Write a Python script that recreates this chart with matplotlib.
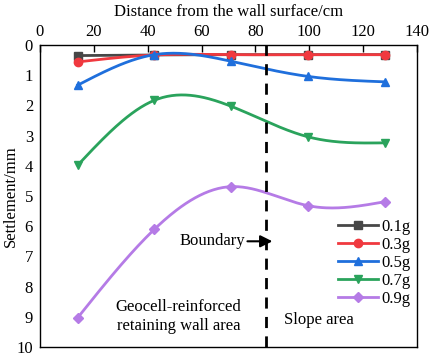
import matplotlib.pyplot as plt
import numpy as np

plt.rcParams["font.family"] = ["Liberation Serif", "DejaVu Serif"]
plt.rcParams["font.size"] = 12

distance = [14, 42.5, 71, 99.5, 128]
s01 = [0.35, 0.33, 0.32, 0.32, 0.32]
s03 = [0.56, 0.33, 0.32, 0.32, 0.32]
s05 = [1.33, 0.32, 0.54, 1.04, 1.22]
s07 = [3.98, 1.83, 2.03, 3.04, 3.24]
s09 = [9.03, 6.1, 4.69, 5.32, 5.19]
labels = ["0.1g", "0.3g", "0.5g", "0.7g", "0.9g"]
colors = ["#474747", "#f0393f", "#1f6fdc", "#2aa35c", "#b57be6"]
markers = ["s", "o", "^", "v", "D"]


def spline(x, y, n=200):
    # natural cubic spline, only used to draw the smooth line
    x = np.asarray(x, float)
    y = np.asarray(y, float)
    k = len(x)
    h = np.diff(x)
    A = np.zeros((k, k))
    b = np.zeros(k)
    A[0, 0] = A[-1, -1] = 1
    for i in range(1, k - 1):
        A[i, i - 1] = h[i - 1]
        A[i, i] = 2 * (h[i - 1] + h[i])
        A[i, i + 1] = h[i]
        b[i] = 6 * ((y[i + 1] - y[i]) / h[i] - (y[i] - y[i - 1]) / h[i - 1])
    M = np.linalg.solve(A, b)
    xs = np.linspace(x[0], x[-1], n)
    idx = np.clip(np.searchsorted(x, xs) - 1, 0, k - 2)
    x0, x1 = x[idx], x[idx + 1]
    hh = x1 - x0
    ys = (M[idx] * (x1 - xs) ** 3 / (6 * hh) + M[idx + 1] * (xs - x0) ** 3 / (6 * hh)
          + (y[idx] / hh - M[idx] * hh / 6) * (x1 - xs)
          + (y[idx + 1] / hh - M[idx + 1] * hh / 6) * (xs - x0))
    return xs, ys


fig = plt.figure(figsize=(4.29, 3.53), dpi=100)
ax = fig.add_axes([40 / 429, 1 - 347 / 353, 377 / 429, 302 / 353])

for ys, lab, c, m in zip([s01, s03, s05, s07, s09], labels, colors, markers):
    xs, yy = spline(distance, ys)
    ax.plot(xs, yy, color=c, lw=2)
    ms = 5 if m == "D" else 6
    ax.plot(distance, ys, ls="none", marker=m, color=c, ms=ms)
    ax.plot([], [], color=c, lw=2, marker=m, ms=ms, label=lab)

ax.axvline(84, color="black", ls=(0, (4, 3)), lw=2)

ax.set_xlim(0, 140)
ax.set_ylim(10, 0)
ax.set_xticks(range(0, 141, 20))
ax.set_yticks(range(0, 11))
ax.xaxis.tick_top()
ax.xaxis.set_label_position("top")
ax.tick_params(axis="x", direction="in", length=5, width=1, labelsize=12)
ax.tick_params(axis="y", direction="in", length=0, labelsize=12, pad=5)
ax.set_xlabel("Distance from the wall surface/cm", fontsize=12, labelpad=6)
ax.set_ylabel("Settlement/mm", fontsize=12)
ax.yaxis.set_label_coords(-0.055, 0.5)
for s in ax.spines.values():
    s.set_linewidth(1)

ax.annotate("Boundary", xy=(86.3, 6.5), xytext=(76, 6.5), ha="right", va="center",
            arrowprops=dict(arrowstyle="-|>", color="black", lw=1.5, mutation_scale=18,
                            shrinkA=0, shrinkB=0))
ax.text(51.5, 9.0, "Geocell-reinforced\nretaining wall area", ha="center", va="center",
        linespacing=1.25)
ax.text(103.5, 9.1, "Slope area", ha="center", va="center")

ax.legend(loc="lower right", bbox_to_anchor=(1.01, 0.1), frameon=False,
          handlelength=2.4, handletextpad=0.2, labelspacing=0.12, borderaxespad=0.2)

fig.savefig("out.png", dpi=100)
